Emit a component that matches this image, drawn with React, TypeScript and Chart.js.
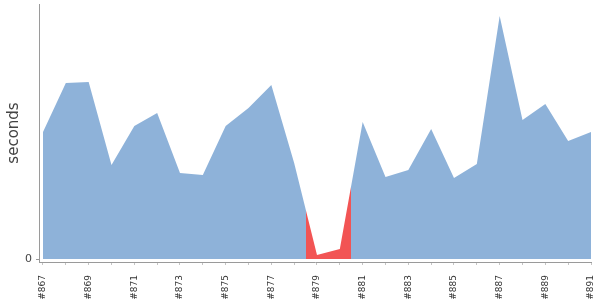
import React, { useEffect, useRef } from "react";
import { Chart, registerables } from "chart.js";

Chart.register(...registerables);

// Build numbers (x categories)
const builds = [
  867, 868, 869, 870, 871, 872, 873, 874, 875, 876, 877, 878, 879,
  880, 881, 882, 883, 884, 885, 886, 887, 888, 889, 890, 891,
];
// Build durations (seconds)
const durations = [
  127, 176, 177, 94, 133, 146, 86, 84, 133, 151, 174, 96, 4,
  10, 137, 82, 89, 130, 81, 95, 243, 139, 155, 118, 127,
];
// Builds that failed (drawn red)
const failedBuilds = [879, 880];
// Tick labels
const tickLabels = builds.map((b) => "#" + b);
const yTickValues = [0];

const BLUE = "#8eb2d9";
const RED = "#f25454";
const AXIS = "#9a9a9a";

function fillStyle(ctx: any) {
  const chart = ctx.chart;
  const area = chart.chartArea;
  const xs = chart.scales && chart.scales.x;
  if (!area || !xs) return BLUE;
  const w = area.right - area.left;
  const clamp = (v: number) => Math.max(0, Math.min(1, v));
  const g = chart.ctx.createLinearGradient(area.left, 0, area.right, 0);
  g.addColorStop(0, BLUE);
  failedBuilds.forEach((b) => {
    const i = builds.indexOf(b);
    const a = clamp((xs.getPixelForValue(i - 0.5) - area.left) / w);
    const c = clamp((xs.getPixelForValue(i + 0.5) - area.left) / w);
    g.addColorStop(a, BLUE);
    g.addColorStop(a, RED);
    g.addColorStop(c, RED);
    g.addColorStop(c, BLUE);
  });
  g.addColorStop(1, BLUE);
  return g;
}

export default function App() {
  const ref = useRef<HTMLCanvasElement>(null);

  useEffect(() => {
    if (!ref.current) return;
    const points = builds.map((_, i) => ({ x: i, y: durations[i] }));
    const chart = new Chart(ref.current, {
      type: "line",
      data: {
        datasets: [
          {
            data: points,
            fill: "origin",
            backgroundColor: fillStyle,
            borderWidth: 0,
            borderColor: "rgba(0,0,0,0)",
            pointRadius: 0,
            pointHoverRadius: 0,
            tension: 0,
          },
        ],
      },
      options: {
        animation: false,
        responsive: false,
        devicePixelRatio: 1,
        events: [],
        layout: { padding: { left: 0, top: 4, right: 9, bottom: 0 } },
        font: { family: "'DejaVu Sans', sans-serif" },
        plugins: {
          legend: { display: false },
          tooltip: { enabled: false },
        },
        scales: {
          x: {
            type: "linear",
            min: -0.175,
            max: builds.length - 1,
            afterBuildTicks: (s: any) => {
              s.ticks = builds.map((_, i) => ({ value: i }));
            },
            afterFit: (s: any) => {
              s.height = 38;
              s.paddingLeft = 0;
              s.paddingRight = 0;
            },
            grid: {
              drawOnChartArea: false,
              drawTicks: true,
              tickLength: 3,
              color: "#c4c4c4",
            },
            border: { color: AXIS },
            ticks: {
              autoSkip: false,
              maxRotation: 90,
              minRotation: 90,
              padding: 10,
              color: "#333",
              font: { family: "'DejaVu Sans', sans-serif", size: 9 },
              callback: (value: any) => {
                const i = Math.round(Number(value));
                return i % 2 === 0 ? tickLabels[i] : "";
              },
            },
          },
          y: {
            type: "linear",
            min: -3,
            max: 255,
            afterBuildTicks: (s: any) => {
              s.ticks = yTickValues.map((v) => ({ value: v }));
            },
            afterFit: (s: any) => {
              s.width = 39;
              s.paddingTop = 0;
              s.paddingBottom = 0;
            },
            grid: {
              drawOnChartArea: false,
              drawTicks: true,
              tickLength: 3,
              color: AXIS,
            },
            border: { color: AXIS },
            ticks: {
              padding: 4,
              color: "#444",
              font: { family: "'DejaVu Sans', sans-serif", size: 11 },
            },
            title: {
              display: true,
              text: "seconds",
              color: "#444",
              font: { family: "'DejaVu Sans', sans-serif", size: 15 },
              padding: { top: 5, bottom: 0 },
            },
          },
        },
      } as any,
    });
    return () => chart.destroy();
  }, []);

  return (
    <div
      style={{
        position: "fixed",
        left: 0,
        top: 0,
        width: 600,
        height: 300,
        background: "#fff",
      }}
    >
      <canvas ref={ref} width={600} height={300} style={{ display: "block" }} />
    </div>
  );
}
